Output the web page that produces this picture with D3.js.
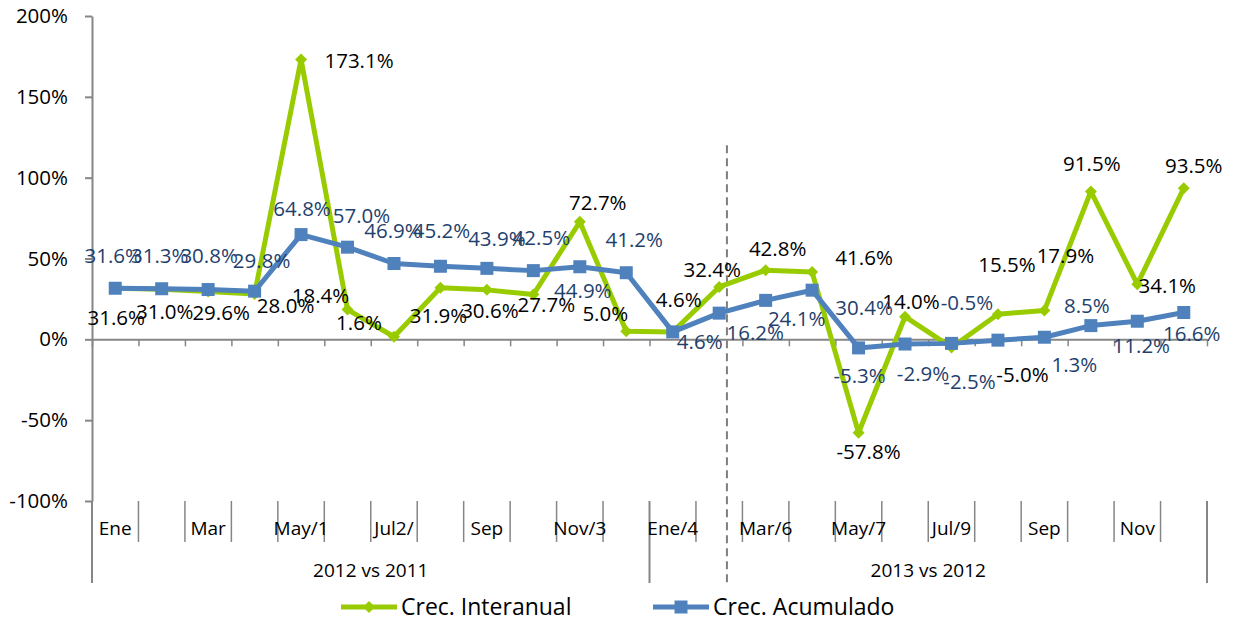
<!DOCTYPE html>
<html>
<head>
<meta charset="utf-8">
<script src="https://cdn.jsdelivr.net/npm/d3@7"></script>
<style>
html, body { margin: 0; padding: 0; background: #fff; }
svg { display: block; font-family: "Open Sans", sans-serif; }
</style>
</head>
<body>
<div id="chart"></div>
<script>
// Data (values in %)
const months = ["Ene", "", "Mar", "", "May/1", "", "Jul2/", "", "Sep", "", "Nov/3", "",
                "Ene/4", "", "Mar/6", "", "May/7", "", "Jul/9", "", "Sep", "", "Nov", ""];
const groups = ["2012 vs 2011", "2013 vs 2012"];
const interanual = [31.6, 31.0, 29.6, 28.0, 173.1, 18.4, 1.6, 31.9, 30.6, 27.7, 72.7, 5.0,
                    4.6, 32.4, 42.8, 41.6, -57.8, 14.0, -5.0, 15.5, 17.9, 91.5, 34.1, 93.5];
const acumulado = [31.6, 31.3, 30.8, 29.8, 64.8, 57.0, 46.9, 45.2, 43.9, 42.5, 44.9, 41.2,
                   4.6, 16.2, 24.1, 30.4, -5.3, -2.9, -2.5, -0.5, 1.3, 8.5, 11.2, 16.6];
const yTicks = [-100, -50, 0, 50, 100, 150, 200];
const seriesNames = ["Crec. Interanual", "Crec. Acumulado"];

// Label offsets from each point (dx, dy of label centre), as placed in the original
const interanualLabelOffset = [[1,29],[3,22],[13,21],[31,12],[58,1],[-27,-14],[-35,-14],[-2,28],[3,21],[13,10],[18,-19],[-21,-18],
                               [6,-32],[-7,-17],[12,-22],[52,-14],[10,19],[6,-15],[71,27],[9,-50],[21,-55],[1,-28],[30,1],[10,-23]];
const acumuladoLabelOffset = [[-2,-33],[-2,-33],[1,-34],[7,-31],[1,-26],[14,-32],[-1,-33],[1,-36],[10,-30],[8,-33],[3,24],[8,-33],
                              [27,10],[36,19],[31,18],[52,17],[1,28],[18,30],[18,38],[-31,-38],[30,27],[-4,-20],[4,24],[8,21]];

const W = 1234, H = 621;
const green = "#99CC00", blue = "#4F81BD", blueText = "#1F3F6D", axisGrey = "#868686";

const svg = d3.select("#chart").append("svg")
    .attr("width", W)
    .attr("height", H);

// Scales: category slots 0..24 along x, percent along y
const x = d3.scaleLinear().domain([0, months.length]).range([92, 1207]);
const y = d3.scaleLinear().domain([-100, 200]).range([501, 16]);
const xc = i => x(i + 0.5);
const catBottom = 542, groupBottom = 583;

// Y axis
const yAxis = svg.append("g")
    .attr("transform", `translate(${x(0)},0)`)
    .call(d3.axisLeft(y).tickValues(yTicks).tickSize(7).tickSizeOuter(0).tickPadding(17)
        .tickFormat(d => d + "%"));
yAxis.select(".domain").attr("stroke", axisGrey).attr("stroke-width", 2);
yAxis.selectAll(".tick line").attr("stroke", axisGrey).attr("stroke-width", 2);
yAxis.selectAll(".tick text")
    .attr("font-size", "20.5px")
    .attr("font-family", "'Open Sans', sans-serif")
    .attr("fill", "#000");

// Zero line with category ticks
const zeroAxis = svg.append("g")
    .attr("transform", `translate(0,${y(0)})`)
    .call(d3.axisBottom(x).tickValues(d3.range(months.length + 1)).tickSize(7).tickSizeOuter(0)
        .tickFormat(""));
zeroAxis.select(".domain").attr("stroke", axisGrey).attr("stroke-width", 2);
zeroAxis.selectAll(".tick line").attr("stroke", axisGrey).attr("stroke-width", 1.5);

// Category table below the plot
svg.append("g").selectAll("line")
    .data(d3.range(months.length + 1))
    .enter()
    .append("line")
    .attr("x1", d => x(d))
    .attr("x2", d => x(d))
    .attr("y1", y(-100))
    .attr("y2", d => d % 12 === 0 ? groupBottom : catBottom)
    .attr("stroke", axisGrey)
    .attr("stroke-width", d => d % 12 === 0 ? 2 : 1.5);

svg.append("g").selectAll("text")
    .data(months)
    .enter()
    .append("text")
    .attr("x", (d, i) => xc(i))
    .attr("y", 528)
    .attr("dy", "0.36em")
    .attr("text-anchor", "middle")
    .attr("font-size", "19px")
    .text(d => d);

svg.append("g").selectAll("text")
    .data(groups)
    .enter()
    .append("text")
    .attr("x", (d, i) => x(i * 12 + 6))
    .attr("y", 570)
    .attr("dy", "0.36em")
    .attr("text-anchor", "middle")
    .attr("font-size", "19px")
    .text(d => d);

// Dashed divider between years
svg.append("line")
    .attr("x1", x(13 + 2 / 3))
    .attr("x2", x(13 + 2 / 3))
    .attr("y1", y(120))
    .attr("y2", 586)
    .attr("stroke", "#7F7F7F")
    .attr("stroke-width", 2)
    .attr("stroke-dasharray", "8,5");

// Lines
const line = d3.line().x((d, i) => xc(i)).y(d => y(d));

svg.append("path")
    .datum(interanual)
    .attr("d", line)
    .attr("fill", "none")
    .attr("stroke", green)
    .attr("stroke-width", 5)
    .attr("stroke-linejoin", "round");

svg.append("path")
    .datum(acumulado)
    .attr("d", line)
    .attr("fill", "none")
    .attr("stroke", blue)
    .attr("stroke-width", 5)
    .attr("stroke-linejoin", "round");

// Markers
const diamond = d3.symbol(d3.symbolSquare, 72);
const square = d3.symbol(d3.symbolSquare, 169);

svg.append("g").selectAll("path")
    .data(interanual)
    .enter()
    .append("path")
    .attr("d", diamond)
    .attr("transform", (d, i) => `translate(${xc(i)},${y(d)}) rotate(45)`)
    .attr("fill", green);

svg.append("g").selectAll("path")
    .data(acumulado)
    .enter()
    .append("path")
    .attr("d", square)
    .attr("transform", (d, i) => `translate(${xc(i)},${y(d)})`)
    .attr("fill", blue);

// Data labels
const fmt = d => d.toFixed(1) + "%";

svg.append("g").selectAll("text")
    .data(interanual)
    .enter()
    .append("text")
    .attr("x", (d, i) => xc(i) + interanualLabelOffset[i][0])
    .attr("y", (d, i) => y(d) + interanualLabelOffset[i][1])
    .attr("dy", "0.36em")
    .attr("text-anchor", "middle")
    .attr("font-size", "20.5px")
    .attr("fill", "#000")
    .text(fmt);

svg.append("g").selectAll("text")
    .data(acumulado)
    .enter()
    .append("text")
    .attr("x", (d, i) => xc(i) + acumuladoLabelOffset[i][0])
    .attr("y", (d, i) => y(d) + acumuladoLabelOffset[i][1])
    .attr("dy", "0.36em")
    .attr("text-anchor", "middle")
    .attr("font-size", "20.5px")
    .attr("fill", blueText)
    .text(fmt);

// Legend
const legend = svg.append("g").attr("transform", "translate(341,607)");
const items = legend.selectAll("g")
    .data(seriesNames)
    .enter()
    .append("g")
    .attr("transform", (d, i) => `translate(${i * 312},0)`);

items.append("line")
    .attr("x1", 0).attr("x2", 56)
    .attr("stroke", (d, i) => i === 0 ? green : blue)
    .attr("stroke-width", 5);

items.append("path")
    .attr("d", (d, i) => i === 0 ? diamond() : square())
    .attr("transform", (d, i) => `translate(28,0)${i === 0 ? " rotate(45)" : ""}`)
    .attr("fill", (d, i) => i === 0 ? green : blue);

items.append("text")
    .attr("x", 60)
    .attr("dy", "0.36em")
    .attr("font-size", "23px")
    .attr("fill", "#000")
    .text(d => d);
</script>
</body>
</html>
